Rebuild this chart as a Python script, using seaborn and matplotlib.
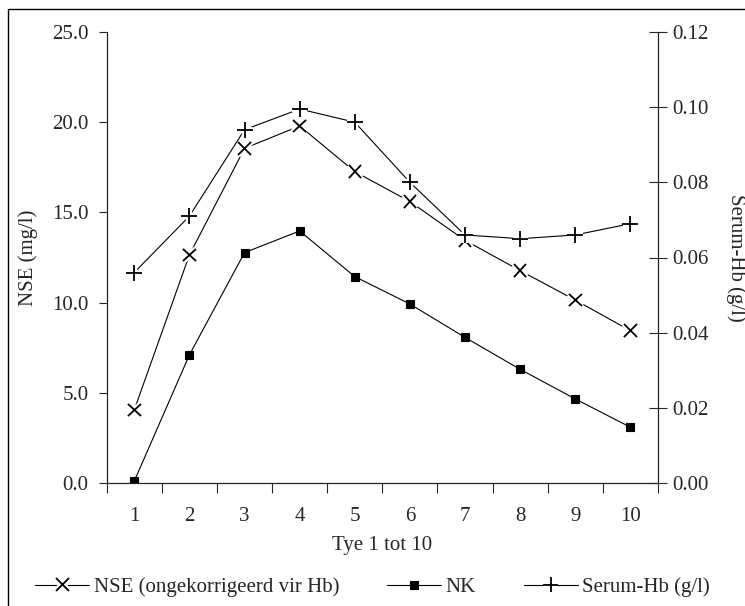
import numpy as np
import pandas as pd
import seaborn as sns
import matplotlib
matplotlib.use("Agg")
import matplotlib.pyplot as plt
import matplotlib.patheffects as pe
from matplotlib.patches import Rectangle

# ---- data ----
days = [1, 2, 3, 4, 5, 6, 7, 8, 9, 10]
nse = [4.05, 12.64, 18.55, 19.79, 17.26, 15.6, 13.45, 11.77, 10.14, 8.44]
nk = [0.1, 7.1, 12.77, 13.97, 11.44, 9.92, 8.07, 6.30, 4.66, 3.09]
serum_hb = [0.056, 0.071, 0.094, 0.0995, 0.096, 0.080, 0.066, 0.065, 0.066, 0.069]
left_ticks = [0.0, 5.0, 10.0, 15.0, 20.0, 25.0]
right_ticks = [0.00, 0.02, 0.04, 0.06, 0.08, 0.10, 0.12]
labels = ["NSE (ongekorrigeerd vir Hb)", "NK", "Serum-Hb (g/l)"]

df = pd.DataFrame({"dag": days, "nse": nse, "nk": nk, "hb": serum_hb})

sns.set_style("ticks")
plt.rcParams["font.family"] = ["Liberation Serif", "DejaVu Serif"]
FS = 15
plt.rcParams["font.size"] = FS

fig = plt.figure(figsize=(7.45, 6.06), dpi=100)
ax = fig.add_axes([106.7 / 745, 1 - 483 / 606, (658 - 106.7) / 745, (483 - 32) / 606])
ax2 = ax.twinx()

lw = 0.8
halo = [pe.Stroke(linewidth=4.5, foreground="white"), pe.Normal()]

# NSE (left axis)
sns.lineplot(data=df, x="dag", y="nse", ax=ax, color="black", linewidth=lw,
             marker="x", markersize=9, markeredgewidth=1.3, markeredgecolor="black",
             label=labels[0], legend=False)
sns.lineplot(data=df, x="dag", y="nse", ax=ax, color="black", linestyle="",
             marker="x", markersize=9, markeredgewidth=1.3, markeredgecolor="black",
             legend=False)
ax.lines[-1].set_path_effects(halo)

# NK (left axis)
sns.lineplot(data=df, x="dag", y="nk", ax=ax, color="black", linewidth=lw,
             marker="s", markersize=6, markeredgewidth=0.8, markeredgecolor="black",
             label=labels[1], legend=False)

# Serum-Hb (right axis)
sns.lineplot(data=df, x="dag", y="hb", ax=ax2, color="black", linewidth=lw,
             marker="+", markersize=11, markeredgewidth=1.3, markeredgecolor="black",
             label=labels[2], legend=False)
sns.lineplot(data=df, x="dag", y="hb", ax=ax2, color="black", linestyle="",
             marker="+", markersize=11, markeredgewidth=1.3, markeredgecolor="black",
             legend=False)
ax2.lines[-1].set_path_effects(halo)

# axes limits / ticks
ax.set_xlim(0.5, 10.5)
ax.set_ylim(0, 25)
ax2.set_ylim(0, 0.12)
ax.set_xticks(days)
ax.set_xticklabels([str(d) for d in days])
ax.set_xticks(np.arange(0.5, 11, 1.0), minor=True)
ax.tick_params(axis="x", which="major", length=0, pad=17, labelsize=FS)
ax.tick_params(axis="x", which="minor", length=7, width=0.8, direction="out")
ax.set_yticks(left_ticks)
ax.set_yticklabels([f"{v:.1f}" for v in left_ticks])
ax.tick_params(axis="y", length=6, width=0.8, direction="out", pad=7, labelsize=FS)
ax2.set_yticks(right_ticks)
ax2.set_yticklabels([f"{v:.2f}" for v in right_ticks])
ax2.tick_params(axis="y", length=13, width=0.8, direction="inout", pad=4, labelsize=FS)

for a in (ax, ax2):
    a.spines["top"].set_visible(False)
    for s in a.spines.values():
        s.set_linewidth(0.9)
ax.spines["right"].set_visible(False)
ax2.spines["left"].set_visible(False)
ax2.spines["bottom"].set_visible(False)

ax.set_xlabel("Tye 1 tot 10", fontsize=FS)
ax.xaxis.set_label_coords(0.5, -0.117)
ax.set_ylabel("NSE (mg/l)", fontsize=FS)
ax.yaxis.set_label_coords(-0.125, 0.5)
ax2.set_ylabel("Serum-Hb (g/l)", fontsize=FS, rotation=-90, va="center")
ax2.yaxis.set_label_coords(1.1415, 0.5)

# legend
h = [ax.lines[0], ax.lines[2], ax2.lines[0]]
leg = fig.legend(h, labels, loc="center", bbox_to_anchor=(0.5, 1 - 587 / 606), ncol=3,
                 frameon=False, handlelength=2.6, handletextpad=0.2, columnspacing=2.3,
                 fontsize=FS, borderaxespad=0)
for i in (0, 2):
    leg.legend_handles[i].set_path_effects(halo)

# outer chart-area border (runs off right and bottom edges)
fig.add_artist(Rectangle((8 / 745, -0.1), 1.2, 1 - 9 / 606 + 0.1, transform=fig.transFigure,
                         fill=False, edgecolor="black", linewidth=1.0))

fig.savefig("out.png", dpi=100)
